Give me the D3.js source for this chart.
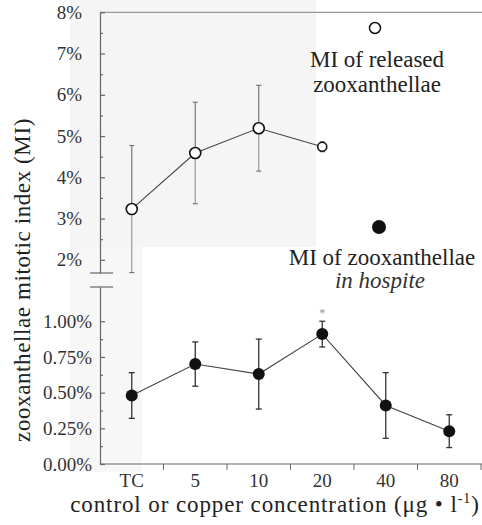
<!DOCTYPE html>
<html>
<head>
<meta charset="utf-8">
<script src="https://cdn.jsdelivr.net/npm/d3@7"></script>
<style>
  html, body { margin: 0; padding: 0; background: #fff; }
  svg { display: block; }
</style>
</head>
<body>
<div id="chart"></div>
<script>
// categories on the x axis
const categories = ['TC', '5', '10', '20', '40', '80'];

// MI of released zooxanthellae (%), mean and error (only TC..20)
const releasedCats = ['TC', '5', '10', '20'];
const releasedMean = [3.23, 4.59, 5.19, 4.74];
const releasedErr = [1.54, 1.23, 1.04, 0.12];

// MI of zooxanthellae in hospite (%)
const hospiteMean = [0.48, 0.70, 0.63, 0.91, 0.41, 0.23];
const hospiteErr = [0.16, 0.155, 0.245, 0.09, 0.23, 0.115];

// tick values
const upperTicks = [2, 3, 4, 5, 6, 7, 8];
const upperMinor = [2.5, 3.5, 4.5, 5.5, 6.5, 7.5];
const lowerTicks = [0, 0.25, 0.5, 0.75, 1];
const lowerMinor = [0.125, 0.375, 0.625, 0.875];

const W = 482, H = 525;
const FONT = "'Liberation Serif', 'Times New Roman', serif";
const svg = d3.select('#chart').append('svg')
    .attr('width', W).attr('height', H);

// scanned-page shading
svg.append('rect').attr('x', 70).attr('y', 0).attr('width', 246).attr('height', 247).attr('fill', '#f5f5f5');
svg.append('rect').attr('x', 70).attr('y', 247).attr('width', 72).attr('height', 225).attr('fill', '#f7f7f7');

const x = d3.scaleBand().domain(categories).range([100, 481]).padding(0);
const xc = d => x(d) + x.bandwidth() / 2;

// broken y axis: upper part in %, lower part in %
const yTop = d3.scaleLinear().domain([1.68, 8]).range([273, 12.3]);
const yBot = d3.scaleLinear().domain([0, 1.24]).range([464, 287]);

const axisCol = '#666';

// top border line
svg.append('line')
    .attr('x1', 100).attr('x2', W).attr('y1', yTop(8)).attr('y2', yTop(8))
    .attr('stroke', '#999').attr('stroke-width', 1.2);

// upper y axis
svg.append('g').attr('transform', 'translate(100,0)')
    .call(d3.axisLeft(yTop).tickValues(upperTicks).tickSize(-5).tickSizeOuter(0)
        .tickPadding(18).tickFormat(d => d + '%'));
svg.append('g').attr('transform', 'translate(100,0)')
    .call(d3.axisLeft(yTop).tickValues(upperMinor).tickSize(-3).tickFormat(''))
    .select('.domain').remove();

// lower y axis
svg.append('g').attr('transform', 'translate(100,0)')
    .call(d3.axisLeft(yBot).tickValues(lowerTicks).tickSize(-5).tickSizeOuter(0)
        .tickPadding(8).tickFormat(d => d3.format('.2f')(d) + '%'));
svg.append('g').attr('transform', 'translate(100,0)')
    .call(d3.axisLeft(yBot).tickValues(lowerMinor).tickSize(-3).tickFormat(''))
    .select('.domain').remove();

// x axis: labels at centres, ticks at category boundaries
const gx = svg.append('g').attr('transform', 'translate(0,' + yBot(0) + ')')
    .call(d3.axisBottom(x).tickSize(0).tickPadding(10).tickSizeOuter(0));
gx.select('.domain').attr('d', 'M100,0H' + W);
gx.selectAll('.bound').data(categories.slice(1).concat(['end']))
    .enter().append('line').attr('class', 'bound')
    .attr('x1', d => d === 'end' ? x.range()[1] : x(d))
    .attr('x2', d => d === 'end' ? x.range()[1] : x(d))
    .attr('y1', 0).attr('y2', 6)
    .attr('stroke', axisCol);

svg.selectAll('.domain, .tick line').attr('stroke', axisCol).attr('stroke-width', 1.2);
svg.selectAll('.tick text').attr('font-size', 19).attr('fill', '#333');

// axis break marks
[yTop.range()[0], yBot.range()[1]].forEach(yy => {
    svg.append('line').attr('x1', 90).attr('x2', 113).attr('y1', yy).attr('y2', yy)
        .attr('stroke', axisCol).attr('stroke-width', 1.2);
});

// released series (open circles)
const rel = releasedCats.map((c, i) => ({ c, m: releasedMean[i], e: releasedErr[i] }));
svg.append('path').datum(rel)
    .attr('d', d3.line().x(d => xc(d.c)).y(d => yTop(d.m)))
    .attr('fill', 'none').attr('stroke', '#444').attr('stroke-width', 1.1);
const relErr = svg.append('g').selectAll('g').data(rel).enter().append('g');
relErr.append('line')
    .attr('x1', d => xc(d.c)).attr('x2', d => xc(d.c))
    .attr('y1', d => yTop(d.m + d.e)).attr('y2', d => yTop(d.m))
    .attr('stroke', '#777').attr('stroke-width', 1.2);
relErr.append('line')
    .attr('x1', d => xc(d.c)).attr('x2', d => xc(d.c))
    .attr('y1', d => yTop(d.m)).attr('y2', d => yTop(d.m - d.e))
    .attr('stroke', '#999').attr('stroke-width', 1.2);
relErr.selectAll('.cap').data(d => [[d.c, d.m + d.e], [d.c, d.m - d.e]])
    .enter().append('line')
    .attr('x1', d => xc(d[0]) - 2.5).attr('x2', d => xc(d[0]) + 2.5)
    .attr('y1', d => yTop(d[1])).attr('y2', d => yTop(d[1]))
    .attr('stroke', '#777').attr('stroke-width', 1.2);
svg.append('g').selectAll('circle').data(rel).enter().append('circle')
    .attr('cx', d => xc(d.c)).attr('cy', d => yTop(d.m))
    .attr('r', (d, i) => i === 3 ? 4.5 : 5.5)
    .attr('fill', '#fff').attr('stroke', '#111').attr('stroke-width', 1.6);

// in hospite series (filled circles)
const hos = categories.map((c, i) => ({ c, m: hospiteMean[i], e: hospiteErr[i] }));
svg.append('path').datum(hos)
    .attr('d', d3.line().x(d => xc(d.c)).y(d => yBot(d.m)))
    .attr('fill', 'none').attr('stroke', '#444').attr('stroke-width', 1.1);
const hosErr = svg.append('g').selectAll('g').data(hos).enter().append('g');
hosErr.append('line')
    .attr('x1', d => xc(d.c)).attr('x2', d => xc(d.c))
    .attr('y1', d => yBot(d.m + d.e)).attr('y2', d => yBot(d.m - d.e))
    .attr('stroke', '#333').attr('stroke-width', 1.3);
hosErr.selectAll('.cap').data(d => [[d.c, d.m + d.e], [d.c, d.m - d.e]])
    .enter().append('line')
    .attr('x1', d => xc(d[0]) - 3).attr('x2', d => xc(d[0]) + 3)
    .attr('y1', d => yBot(d[1])).attr('y2', d => yBot(d[1]))
    .attr('stroke', '#333').attr('stroke-width', 1.3);
svg.append('g').selectAll('circle').data(hos).enter().append('circle')
    .attr('cx', d => xc(d.c)).attr('cy', d => yBot(d.m))
    .attr('r', 6).attr('fill', '#111');

// significance mark above 20
svg.append('text').attr('x', xc('20')).attr('y', yBot(hospiteMean[3] + hospiteErr[3]) - 4)
    .attr('text-anchor', 'middle').attr('font-size', 13).attr('fill', '#999').text('*');

// legend
svg.append('circle').attr('cx', 375).attr('cy', 28).attr('r', 5.5)
    .attr('fill', '#fff').attr('stroke', '#111').attr('stroke-width', 1.5);
svg.append('text').attr('x', 377).attr('y', 67).attr('text-anchor', 'middle')
    .attr('font-size', 23).text('MI of released');
svg.append('text').attr('x', 377).attr('y', 92).attr('text-anchor', 'middle')
    .attr('font-size', 23).text('zooxanthellae');
svg.append('circle').attr('cx', 379).attr('cy', 227).attr('r', 7).attr('fill', '#111');
svg.append('text').attr('x', 382).attr('y', 265).attr('text-anchor', 'middle')
    .attr('font-size', 23).text('MI of zooxanthellae');
svg.append('text').attr('x', 380).attr('y', 288).attr('text-anchor', 'middle')
    .attr('font-size', 23).attr('font-style', 'italic').attr('fill', '#333').text('in hospite');

// axis titles
svg.append('text').attr('transform', 'translate(30,280) rotate(-90)')
    .attr('text-anchor', 'middle').attr('font-size', 23).attr('letter-spacing', 0.6)
    .text('zooxanthellae mitotic index (MI)');
const xt = svg.append('text').attr('x', 275).attr('y', 512).attr('text-anchor', 'middle')
    .attr('font-size', 23).attr('letter-spacing', 0.9);
xt.append('tspan').text('control or copper concentration (\u03bcg \u2022 l');
xt.append('tspan').attr('dy', -9).attr('font-size', 14).text('-1');
xt.append('tspan').attr('dy', 9).text(')');

// serif type everywhere
svg.selectAll('g').attr('font-family', null);
svg.selectAll('text').style('font-family', FONT).style('fill', function () {
    return d3.select(this).attr('fill') || '#222';
});
</script>
</body>
</html>
